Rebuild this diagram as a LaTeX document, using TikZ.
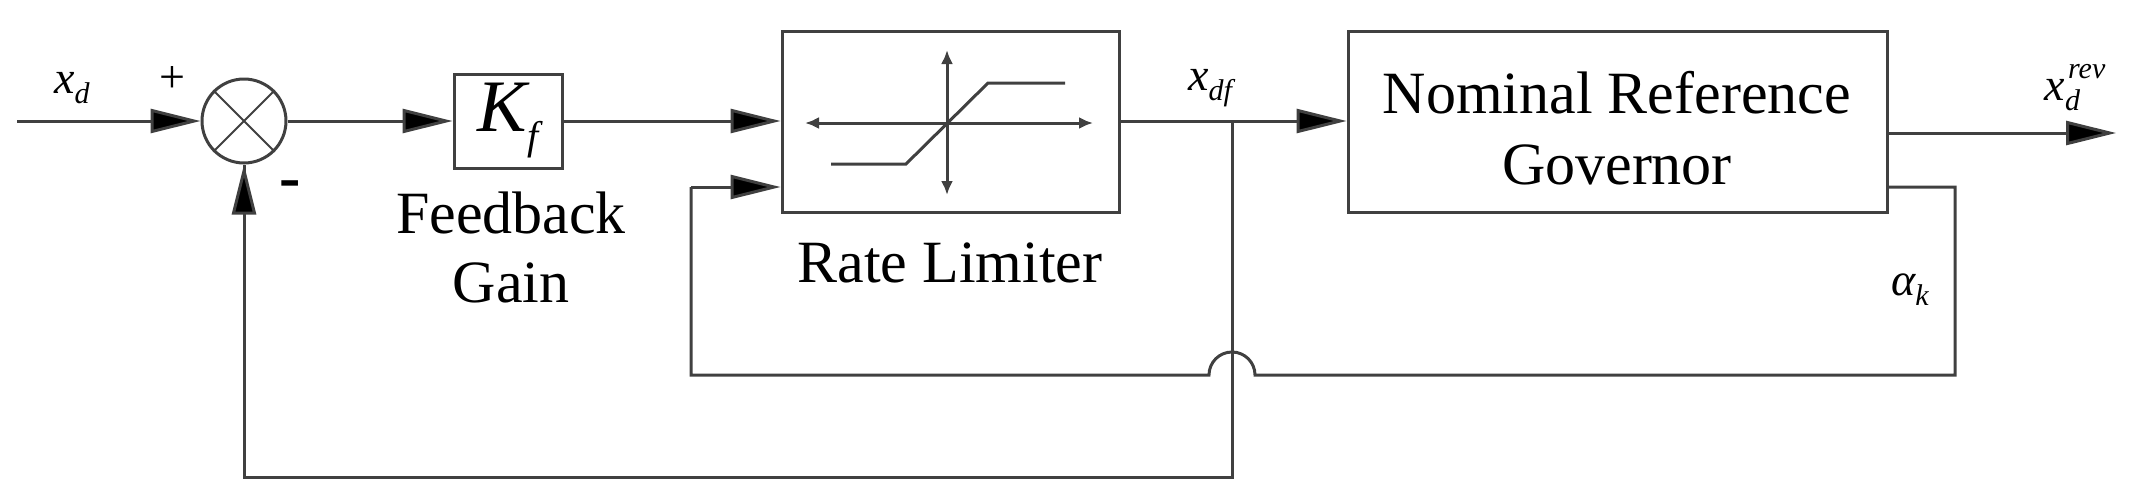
\documentclass[tikz,border=0pt]{standalone}
\usepackage{fontspec}
\setmainfont{Liberation Serif}
\usetikzlibrary{arrows.meta}
\newcommand{\mysub}[1]{\raisebox{-10pt}{\fontsize{30}{30}\selectfont\itshape #1}}
\newcommand{\mysup}[1]{\raisebox{22pt}{\fontsize{30}{30}\selectfont\itshape #1}}
\begin{document}
\begin{tikzpicture}[x=1pt,y=-1pt,
  ln/.style={line width=3pt,draw=black!75},
  ar/.style={ln,-{Triangle[length=50pt,width=24pt,fill=black]}},
  blk/.style={ln,draw,minimum width=#1,inner sep=0pt},
  txt/.style={font=\fontsize{60}{64}\selectfont},
  lab/.style={font=\fontsize{46}{48}\selectfont\itshape}]
\useasboundingbox (0,0) rectangle (2137,501);
\node[ln,draw,circle,minimum size=84pt,inner sep=0pt] (s) at (244,121) {};
\draw[ln,line width=2pt] (s.45)--(s.225) (s.135)--(s.315);
\node[blk=108pt,minimum height=94pt] (k) at (508,121) {};
\node[font=\fontsize{74}{74}\selectfont\itshape] at (508,121) {K\raisebox{-18pt}{\fontsize{40}{40}\selectfont\itshape f}};
\node[blk=337pt,minimum height=181pt] (r) at (950.5,121.5) {};
\node[blk=539pt,minimum height=181pt] (n) at (1617.5,121.5) {};
\coordinate (in) at (17,121);
\coordinate (j) at (1232,121);
\coordinate (out) at (2116,133);
\draw[ar] (in)--(s.west);
\draw[ar] (s.east)--(k.west);
\draw[ar] (k.east)--(r.west|-k.east);
\draw[ar] (r.east|-j)--(n.west|-j);
\draw[ar] (n.east|-out)--(out);
\draw[ln] (j)--(1232,477)--(244,477)--(s.south);
\draw[ar] (244,300)--(s.south);
\draw[ln] (n.east|-0,187)--(1955,187)--(1955,375)--(1255,375) arc[start angle=0,end angle=-180,radius=23]--(691,375)--(691,187);
\draw[ar] (691,187)--(r.west|-0,187);
% rate limiter symbol
\draw[ln,-{Latex[length=14pt,width=12pt]}] (947,123)--(805,123);
\draw[ln,-{Latex[length=14pt,width=12pt]}] (947,123)--(1093,123);
\draw[ln,-{Latex[length=14pt,width=12pt]}] (947,123)--(947,50);
\draw[ln,-{Latex[length=14pt,width=12pt]}] (947,123)--(947,195);
\draw[ln] (831,164)--(906,164)--(988,83)--(1065,83);
% texts
\node[txt] at (1617,93) {Nominal Reference};
\node[txt] at (1617,165) {Governor};
\node[txt] at (511,213) {Feedback};
\node[txt] at (511,283) {Gain};
\node[txt] at (950,263) {Rate Limiter};
\node[lab] at (72,88) {x\mysub{d}};
\node[font=\fontsize{46}{48}\selectfont] at (172,80) {+};
\node[font=\fontsize{64}{64}\selectfont\bfseries] at (290,190) {-};
\node[lab] at (1210,88) {x\mysub{df}};
\node[lab] at (2075,88) {x\mysub{d}\hspace{-12pt}\mysup{rev}};
\node[lab] at (1910,290) {α\mysub{k}};
\end{tikzpicture}
\end{document}
